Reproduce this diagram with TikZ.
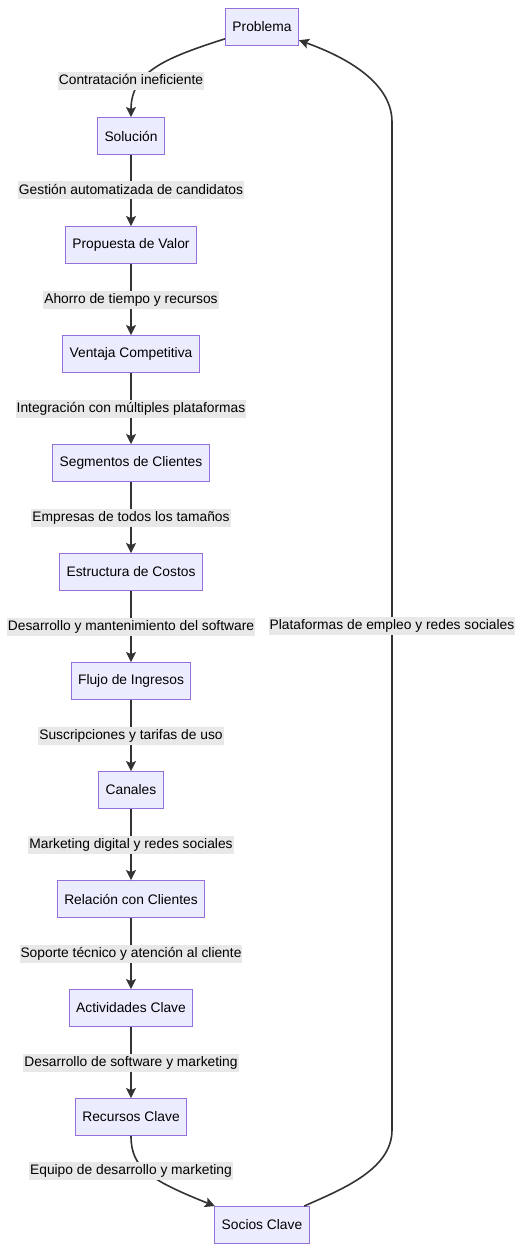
\documentclass[tikz,border=0pt]{standalone}
\usepackage{fontspec}
\setmainfont{Liberation Sans}
\usetikzlibrary{arrows.meta}
\definecolor{nodofondo}{HTML}{ECECFF}
\definecolor{nodoborde}{HTML}{9370DB}
\definecolor{flechagris}{HTML}{333333}
\definecolor{etiquetagris}{HTML}{E8E8E8}

\begin{document}
\begin{tikzpicture}[x=1pt,y=1pt,
  bloque/.style={draw=nodoborde,fill=nodofondo,line width=0.9pt,minimum height=37pt,inner xsep=7pt,font=\fontsize{13.8}{16}\selectfont},
  etiqueta/.style={fill=etiquetagris,inner xsep=1pt,inner ysep=2.5pt,text height=10pt,text depth=3pt,font=\fontsize{13.8}{16}\selectfont},
  flecha/.style={draw=flechagris,line width=1.6pt,-{Stealth[length=10pt,width=10pt,inset=2pt]}}]
  \useasboundingbox(0,0)rectangle(520,-1252);
  \node[bloque](prob)at(262,-27){Problema};
  \node[bloque](sol)at(131,-136){Solución};
  \node[bloque](prop)at(131,-245){Propuesta de Valor};
  \node[bloque](ventaja)at(131,-354){Ventaja Competitiva};
  \node[bloque](segm)at(131,-463){Segmentos de Clientes};
  \node[bloque](costos)at(131,-572){Estructura de Costos};
  \node[bloque](ingresos)at(131,-681){Flujo de Ingresos};
  \node[bloque](canales)at(131,-790){Canales};
  \node[bloque](relacion)at(131,-899){Relación con Clientes};
  \node[bloque](activ)at(131,-1008){Actividades Clave};
  \node[bloque](recursos)at(131,-1117){Recursos Clave};
  \node[bloque](socios)at(262,-1225){Socios Clave};
  \coordinate(vueltaAbajo)at(392,-1130);
  \coordinate(vueltaArriba)at(392,-122);
  \draw[flecha](prob)..controls(165,-58)and(131,-72)..(sol);
  \node[etiqueta](lblContratacion)at(131,-81){Contratación ineficiente};
  \draw[flecha](sol)--node[etiqueta]{Gestión automatizada de candidatos}(prop);
  \draw[flecha](prop)--node[etiqueta]{Ahorro de tiempo y recursos}(ventaja);
  \draw[flecha](ventaja)--node[etiqueta]{Integración con múltiples plataformas}(segm);
  \draw[flecha](segm)--node[etiqueta]{Empresas de todos los tamaños}(costos);
  \draw[flecha](costos)--node[etiqueta]{Desarrollo y mantenimiento del software}(ingresos);
  \draw[flecha](ingresos)--node[etiqueta]{Suscripciones y tarifas de uso}(canales);
  \draw[flecha](canales)--node[etiqueta]{Marketing digital y redes sociales}(relacion);
  \draw[flecha](relacion)--node[etiqueta]{Soporte técnico y atención al cliente}(activ);
  \draw[flecha](activ)--node[etiqueta]{Desarrollo de software y marketing}(recursos);
  \draw[flecha](recursos)..controls(131,-1168)and(150,-1180)..(socios);
  \node[etiqueta](lblEquipo)at(131,-1171){Equipo de desarrollo y marketing};
  \draw[flecha](socios)..controls(340,-1190)and(392,-1170)..(vueltaAbajo)--node[etiqueta]{Plataformas de empleo y redes sociales}(vueltaArriba)..controls(392,-80)and(340,-55)..(prob);
\end{tikzpicture}
\end{document}
